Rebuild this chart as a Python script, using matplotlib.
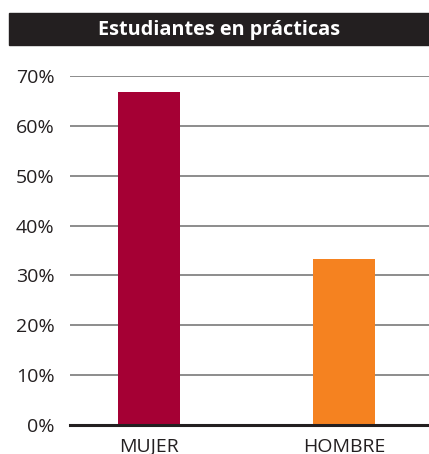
import matplotlib.pyplot as plt
from matplotlib.patches import Rectangle

# data
categories = ['MUJER', 'HOMBRE']
values = [66.7, 33.3]
colors = ['#A50034', '#F58220']
yticks = [0, 10, 20, 30, 40, 50, 60, 70]
title = 'Estudiantes en prácticas'

plt.rcParams['font.family'] = ['Open Sans', 'DejaVu Sans']

fig = plt.figure(figsize=(4.29, 4.54), dpi=100)
W, H = 429, 454

# title bar
fig.patches.append(Rectangle((9 / W, 1 - 45 / H), 1 - 9 / W, 32 / H,
                             transform=fig.transFigure, color='#231F20', zorder=0))
fig.text((9 + 429) / 2 / W, 1 - 30 / H, title, color='white', fontsize=14.3,
         fontweight='bold', ha='center', va='center')

ax = fig.add_axes([70 / W, 1 - 425 / H, 1 - 70 / W, (425 - 76) / H])
x = list(range(len(categories)))
ax.bar(x, values, width=0.318, color=colors, zorder=3)

ax.set_xlim(-0.405, 1.436)
ax.set_ylim(0, 70)
ax.set_yticks(yticks)
ax.set_yticklabels([f'{t}%' for t in yticks], fontsize=14, color='#231F20')
ax.set_xticks(x)
ax.set_xticklabels(categories, fontsize=14, color='#231F20')
ax.tick_params(axis='both', length=0)
ax.tick_params(axis='y', pad=11)
ax.tick_params(axis='x', pad=9)

for t in yticks[1:]:
    ax.axhline(t, color='#6d6d6d', linewidth=1.1, zorder=1)
ax.axhline(0, color='#231F20', linewidth=2.2, zorder=4, clip_on=False)

for s in ax.spines.values():
    s.set_visible(False)

plt.savefig('out.png', dpi=100)
